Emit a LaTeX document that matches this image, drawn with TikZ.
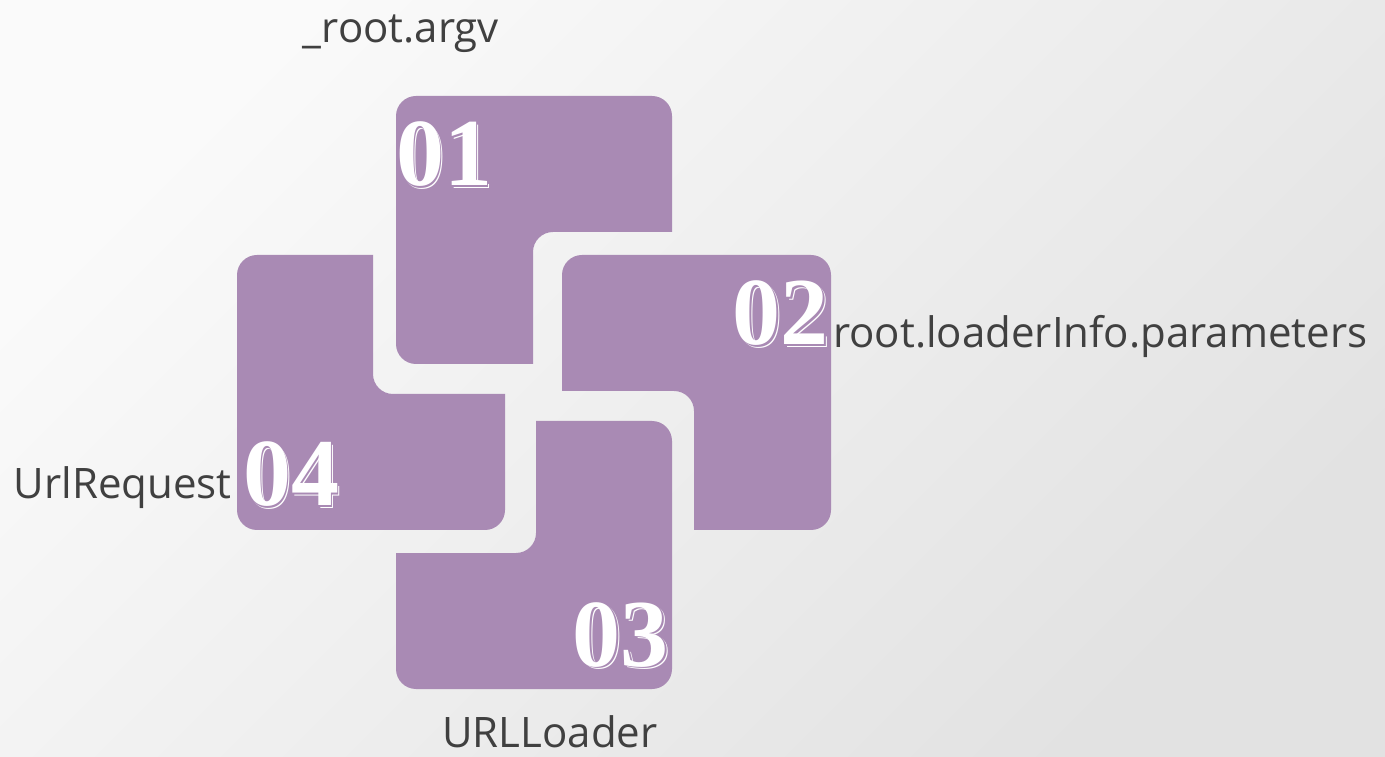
\documentclass[tikz,border=0pt]{standalone}
\usepackage{fontspec}
\newfontfamily\labelfont{Open Sans}
\newfontfamily\numfont{Liberation Serif}
\definecolor{tile}{HTML}{A98AB4}
\definecolor{labelgrey}{HTML}{404040}
\definecolor{paperhi}{HTML}{FAFAFA}
\definecolor{paperlo}{HTML}{E2E2E2}

% an engraved-looking numeral: white offset outline, purple gap, white face
\newcommand{\tilenumber}[4]{%
  \node[digits, text=white, anchor=#2] (#1-shadow) at ([shift={(2.6,-2.6)}]#3) {#4};
  \node[digits, text=tile,  anchor=#2] (#1-gap)    at ([shift={(1.3,-1.3)}]#3) {#4};
  \node[digits, text=white, anchor=#2] (#1)        at (#3) {#4};
}

\begin{document}
\begin{tikzpicture}[x=1pt,y=1pt,
  tilefill/.style={fill=tile},
  caption/.style={font=\labelfont\fontsize{42}{42}\selectfont, text=labelgrey, inner sep=0pt},
  digits/.style={font=\numfont\bfseries\fontsize{96}{96}\selectfont, inner sep=0pt}]

% paper background
\shade[top color=paperhi, bottom color=paperlo, shading angle=45] (0,0) rectangle (1385,756);
\useasboundingbox (0,0) rectangle (1385,756);

% tile 01 (notch at lower right)
\fill[tilefill] (416,660) -- (652,660) arc[start angle=90,end angle=0,radius=20]
  -- (672,524) -- (553,524) arc[start angle=90,end angle=180,radius=20]
  -- (533,392) -- (416,392) arc[start angle=270,end angle=180,radius=20]
  -- (396,640) arc[start angle=180,end angle=90,radius=20] -- cycle;

% tile 02 (notch at lower left)
\fill[tilefill] (582,501) -- (811,501) arc[start angle=90,end angle=0,radius=20]
  -- (831,246) arc[start angle=0,end angle=-90,radius=20]
  -- (694,226) -- (694,345) arc[start angle=0,end angle=90,radius=20]
  -- (562,365) -- (562,481) arc[start angle=180,end angle=90,radius=20] -- cycle;

% tile 04 (notch at upper right)
\fill[tilefill] (257,501) -- (373,501) -- (373,382) arc[start angle=180,end angle=270,radius=20]
  -- (505,362) -- (505,246) arc[start angle=0,end angle=-90,radius=20]
  -- (257,226) arc[start angle=270,end angle=180,radius=20]
  -- (237,481) arc[start angle=180,end angle=90,radius=20] -- cycle;

% tile 03 (notch at upper left)
\fill[tilefill] (536,335) -- (652,335) arc[start angle=90,end angle=0,radius=20]
  -- (672,87) arc[start angle=0,end angle=-90,radius=20]
  -- (416,67) arc[start angle=270,end angle=180,radius=20]
  -- (396,203) -- (516,203) arc[start angle=270,end angle=360,radius=20] -- cycle;

% numerals
\tilenumber{n01}{base west}{396,570}{01}
\tilenumber{n02}{base east}{829,411}{02}
\tilenumber{n03}{base east}{669,90}{03}
\tilenumber{n04}{base west}{243,250}{04}

% captions
\node[caption, anchor=base]      (argv)   at (401,713) {\_root.argv};
\node[caption, anchor=base west] (params) at (833,408) {root.loaderInfo.parameters};
\node[caption, anchor=base]      (loader) at (550,9)   {URLLoader};
\node[caption, anchor=base east] (request) at (232,257) {UrlRequest};
\end{tikzpicture}
\end{document}
